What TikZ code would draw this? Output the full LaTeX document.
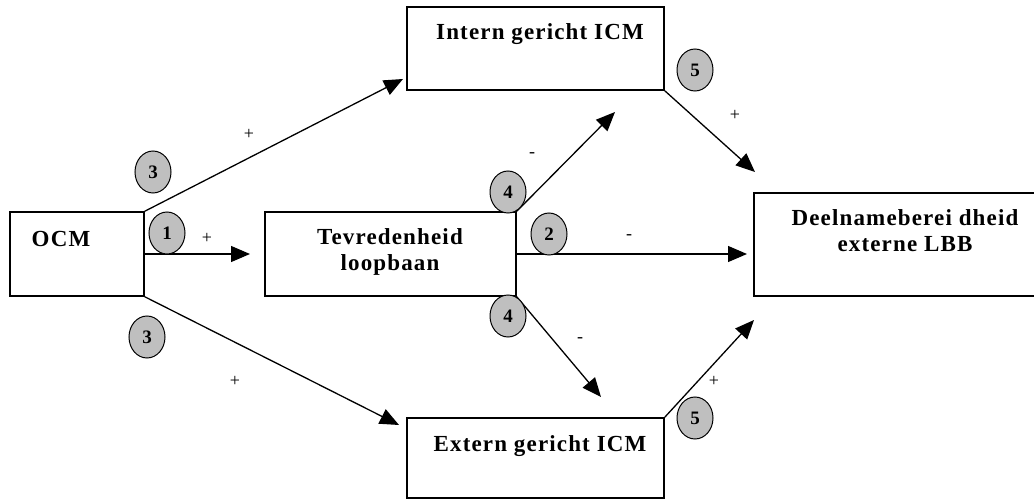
\documentclass[tikz,border=0pt]{standalone}
\usepackage{fontspec}
\setmainfont{Liberation Serif}
\newfontfamily\boxfont[LetterSpace=5]{Liberation Serif}
\usetikzlibrary{arrows.meta,shapes.geometric}
\begin{document}
\begin{tikzpicture}[x=1pt, y=-1pt,
  box/.style={draw, line width=1.5pt, inner sep=0pt},
  txt/.style={inner sep=0pt, font=\boxfont\bfseries\fontsize{23}{26}\selectfont},
  num/.style={ellipse, draw, line width=1pt, fill=gray!50, minimum width=36pt, minimum height=42pt, inner sep=0pt, font=\bfseries\fontsize{19}{19}\selectfont},
  sign/.style={inner sep=0pt, font=\fontsize{18}{18}\selectfont},
  arr/.style={line width=1.3pt, -{Triangle[length=19pt,width=16pt]}}]
\useasboundingbox (0,0) rectangle (1034,500);
\node[box, minimum width=134pt, minimum height=84pt] (ocm) at (77,254) {};
\node[box, minimum width=251pt, minimum height=84pt] (tev) at (390.5,254) {};
\node[box, minimum width=257pt, minimum height=83pt] (intern) at (535.5,48.5) {};
\node[box, minimum width=257pt, minimum height=80pt] (extern) at (535.5,458) {};
\node[box, minimum width=286pt, minimum height=103pt] (deel) at (897,244.5) {};
\node[txt, anchor=base] (ocmtxt) at (61,246) {OCM};
\node[txt, align=center] (tevtxt) at (390,252) {Tevredenheid\\loopbaan};
\node[txt, anchor=base] (interntxt) at (540,40) {Intern gericht ICM};
\node[txt, anchor=base] (externtxt) at (540,451) {Extern gericht ICM};
\node[txt, align=center] (deeltxt) at (905,230.5) {Deelnameberei dheid\\externe LBB};
\coordinate (tip1) at (250,254);
\coordinate (tip3a) at (403,79);
\coordinate (tip3b) at (399,425);
\coordinate (tip4a) at (615,112);
\coordinate (tip2) at (747,254);
\coordinate (tip4b) at (601,397);
\coordinate (tip5a) at (755,172);
\coordinate (tip5b) at (754,320);
\draw[arr] (ocm.east) -- (tip1);
\draw[arr] (ocm.north east) -- (tip3a);
\draw[arr] (ocm.south east) -- (tip3b);
\draw[arr] (tev.north east) -- (tip4a);
\draw[arr] (tev.east) -- (tip2);
\draw[arr] (tev.south east) -- (tip4b);
\draw[arr] (intern.south east) -- (tip5a);
\draw[arr] (extern.north east) -- (tip5b);
\node[num] (n3a) at (153,172) {3};
\node[num] (n1) at (167,233) {1};
\node[num] (n3b) at (147,337) {3};
\node[num] (n4a) at (508,192) {4};
\node[num] (n2) at (549,234) {2};
\node[num] (n4b) at (508,316) {4};
\node[num] (n5a) at (695,70) {5};
\node[num] (n5b) at (695,418) {5};
\node[sign] (s3a) at (249,134) {+};
\node[sign] (s1) at (207,238) {+};
\node[sign] (s3b) at (235,381) {+};
\node[sign] (s4a) at (532,155) {-};
\node[sign] (s2) at (629,237) {-};
\node[sign] (s4b) at (580,340) {-};
\node[sign] (s5a) at (735,115) {+};
\node[sign] (s5b) at (714,381) {+};
\end{tikzpicture}
\end{document}
